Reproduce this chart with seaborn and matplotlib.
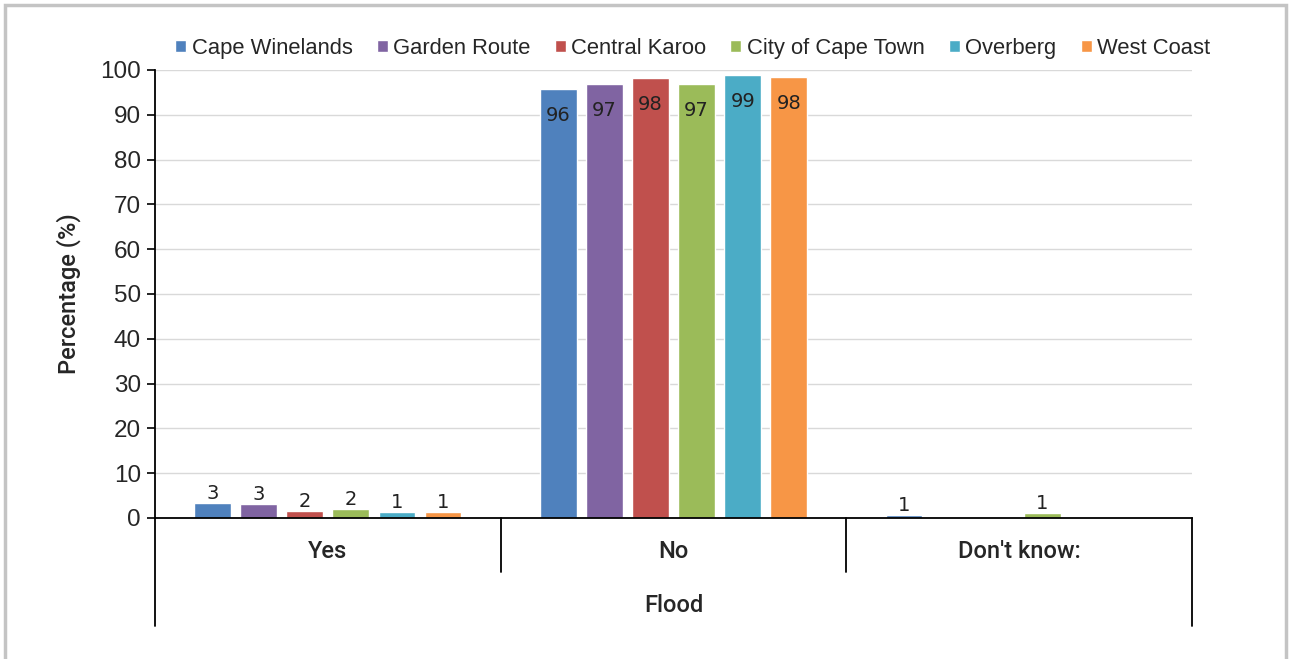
import matplotlib
matplotlib.use("Agg")
import matplotlib.pyplot as plt
from matplotlib.patches import Rectangle
import pandas as pd
import seaborn as sns

# dados
categorias = ["Yes", "No", "Don't know:"]
regioes = ["Cape Winelands", "Garden Route", "Central Karoo",
           "City of Cape Town", "Overberg", "West Coast"]
cape_winelands = [3.4, 95.8, 0.7]
garden_route = [3.2, 96.8, 0.0]
central_karoo = [1.6, 98.3, 0.0]
city_of_cape_town = [2.0, 96.8, 1.1]
overberg = [1.3, 98.8, 0.0]
west_coast = [1.4, 98.4, 0.0]
cores = ["#4F81BD", "#8064A2", "#C0504D", "#9BBB59", "#4BACC6", "#F79646"]

series = [cape_winelands, garden_route, central_karoo,
          city_of_cape_town, overberg, west_coast]
linhas = []
for regiao, valores in zip(regioes, series):
    for cat, v in zip(categorias, valores):
        linhas.append({"Flood": cat, "Regiao": regiao, "Pct": v})
df = pd.DataFrame(linhas)

sns.set_style("white")
plt.rcParams["font.family"] = ["Liberation Sans", "DejaVu Sans"]

fig = plt.figure(figsize=(12.9, 6.59), dpi=100)
ax = fig.add_axes([155 / 1290, 1 - 518 / 659, (1192 - 155) / 1290, 448 / 659])

sns.barplot(data=df, x="Flood", y="Pct", hue="Regiao", order=categorias,
            hue_order=regioes, palette=cores, width=0.8, gap=0.2,
            saturation=1, ax=ax, legend=True)

# rotulos: fora da barra em Yes / Don't know, dentro em No
for cont, valores in zip(ax.containers, series):
    fora = [f"{v:.0f}" if (i != 1 and v > 0) else "" for i, v in enumerate(valores)]
    dentro = [f"{v:.0f}" if i == 1 else "" for i, v in enumerate(valores)]
    ax.bar_label(cont, labels=fora, padding=0, fontsize=14,
                 family="DejaVu Sans", color="#222222")
    ax.bar_label(cont, labels=dentro, padding=-26, fontsize=14,
                 family="DejaVu Sans", color="#222222")

ax.set_ylim(0, 100)
ax.set_xlim(-0.5, 2.5)
ax.set_yticks(range(0, 101, 10))
ax.yaxis.grid(True, color="#d9d9d9", linewidth=1)
ax.set_axisbelow(True)
for s in ["top", "right"]:
    ax.spines[s].set_visible(False)
ax.spines["left"].set_color("black")
ax.spines["bottom"].set_color("black")
ax.spines["left"].set_linewidth(1.3)
ax.spines["bottom"].set_linewidth(1.3)
ax.tick_params(axis="y", left=True, length=6, width=1.2, color="black",
               labelsize=17.5, pad=4)
ax.tick_params(axis="x", bottom=False, length=0, labelsize=17, pad=16)
for t in ax.get_xticklabels():
    t.set_family(["Roboto", "Liberation Sans"])
    t.set_fontweight("medium")

ax.set_ylabel("Percentage (%)", fontsize=17, labelpad=14,
              family=["Roboto", "Liberation Sans"], fontweight="medium")
ax.set_xlabel("Flood", fontsize=17, labelpad=22,
              family=["Roboto", "Liberation Sans"], fontweight="medium")

# linhas do eixo de categorias
trans = ax.get_xaxis_transform()
for x in [0.5, 1.5]:
    ax.plot([x, x], [0, -0.12], transform=trans, color="black", lw=1.3, clip_on=False)
for x in [-0.5, 2.5]:
    ax.plot([x, x], [0, -0.24], transform=trans, color="black", lw=1.3, clip_on=False)

ax.legend(loc="center", bbox_to_anchor=(0.537, 0.927),
          bbox_transform=fig.transFigure, ncol=6, frameon=False,
          fontsize=15.8, handlelength=0.5, handleheight=0.5,
          handletextpad=0.25, columnspacing=1.1)

fig.patches.append(Rectangle((5 / 1290, -0.01), 1281 / 1290, 1 - 5 / 659 + 0.01,
                             transform=fig.transFigure, fill=False,
                             edgecolor="#c4c4c4", linewidth=2.5))

fig.savefig("out.png", dpi=100)
